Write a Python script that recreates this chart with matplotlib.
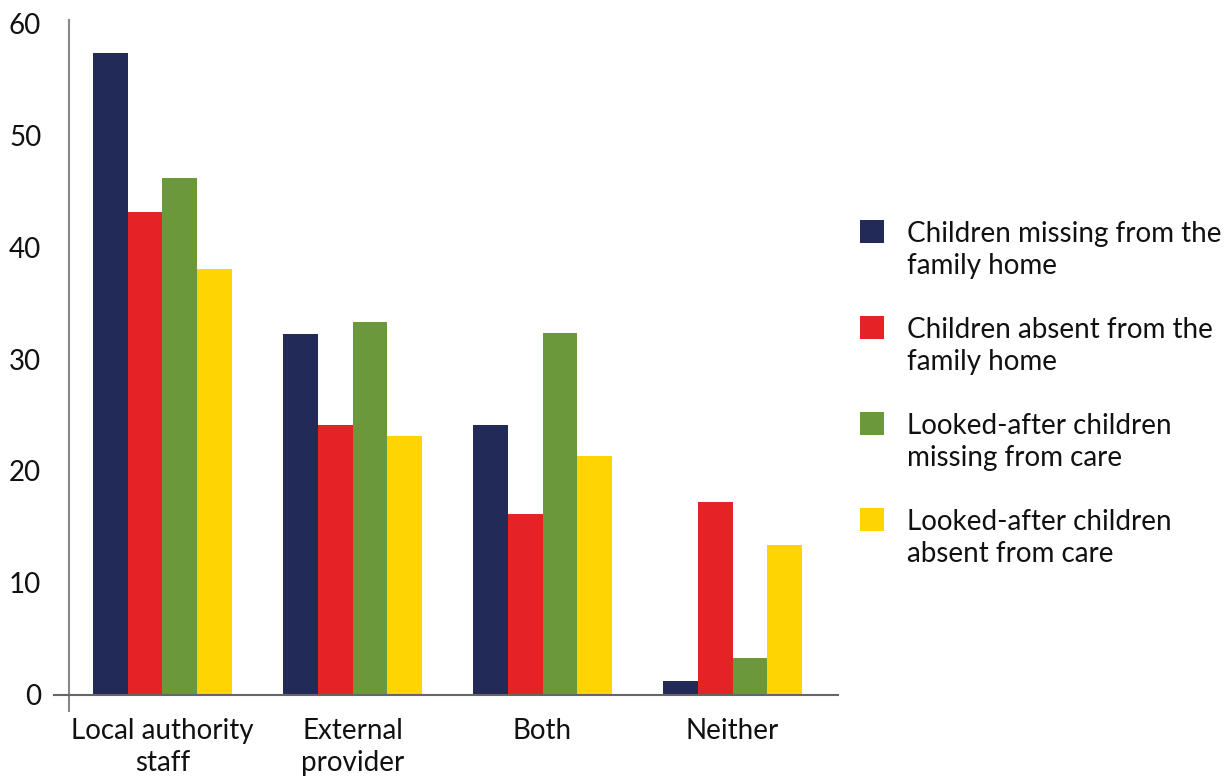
import matplotlib
matplotlib.use("Agg")
import matplotlib.pyplot as plt
from matplotlib.patches import Rectangle
import numpy as np

plt.rcParams['font.family'] = ['Lato', 'DejaVu Sans']

categories = ["Local authority\nstaff", "External\nprovider", "Both", "Neither"]
series_labels = [
    "Children missing from the\nfamily home",
    "Children absent from the\nfamily home",
    "Looked-after children\nmissing from care",
    "Looked-after children\nabsent from care",
]
missing_home = [57.3, 32.2, 24.1, 1.25]
absent_home = [43.1, 24.1, 16.2, 17.2]
missing_care = [46.2, 33.3, 32.3, 3.3]
absent_care = [38.0, 23.1, 21.3, 13.4]
series = [missing_home, absent_home, missing_care, absent_care]
colors = ["#222B58", "#E52325", "#6B983B", "#FFD400"]
yticks = [0, 10, 20, 30, 40, 50, 60]

W, H = 1232, 776
FS = 20
fig = plt.figure(figsize=(W / 100, H / 100), dpi=100)
ax = fig.add_axes([69 / W, 1 - 711 / H, (838 - 69) / W, (711 - 20) / H])

x = np.arange(len(categories))
bw = 0.183
for i, (vals, col) in enumerate(zip(series, colors)):
    ax.bar(x + (i - 1.5) * bw, vals, width=bw, color=col, linewidth=0, zorder=2)

ax.set_xlim(-0.492, 3.555)
ax.set_ylim(-1.43, 60.27)
ax.set_yticks(yticks)
ax.set_yticklabels([str(t) for t in yticks])
ax.set_xticks(x)
ax.set_xticklabels(categories, linespacing=1.3)
ax.tick_params(axis='y', length=0, pad=20, labelsize=FS, labelcolor="#111111")
ax.tick_params(axis='x', length=0, pad=5, labelsize=FS, labelcolor="#111111")

for s in ["top", "right", "bottom"]:
    ax.spines[s].set_visible(False)
ax.spines["left"].set_color("#888888")
ax.spines["left"].set_linewidth(1.5)

# baseline at zero, running slightly past the left spine
ax.plot([-0.57, 3.555], [0, 0], color="#666666", lw=1.5, clip_on=False, zorder=3)

# legend: square swatches aligned with the first text line
for i, (lab, col) in enumerate(zip(series_labels, colors)):
    top = 220 + i * 96
    fig.add_artist(Rectangle((860 / W, 1 - (top + 23) / H), 24 / W, 23 / H,
                             transform=fig.transFigure, color=col, lw=0))
    fig.text(907 / W, 1 - (top + 1) / H, lab, fontsize=FS, color="#111111",
             va="top", ha="left", linespacing=1.3)

fig.savefig("out.png", dpi=100)
